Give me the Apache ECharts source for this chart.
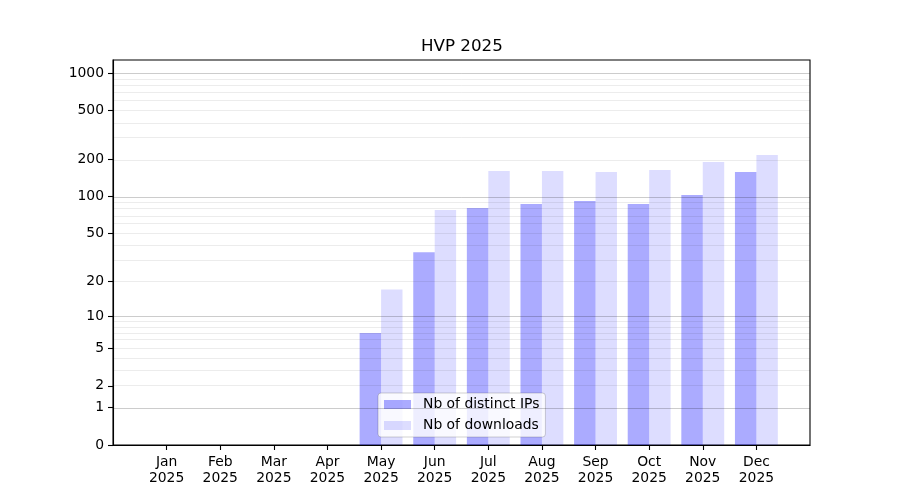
<!DOCTYPE html>
<html>
<head>
<meta charset="utf-8">
<title>HVP 2025</title>
<script src="https://cdn.jsdelivr.net/npm/echarts@6/dist/echarts.min.js"></script>
<style>
	html, body { margin: 0; padding: 0; background: #fff; }
	#main { width: 900px; height: 500px; }
</style>
</head>
<body>
<div id="main"></div>
<script>
var months = ['Jan', 'Feb', 'Mar', 'Apr', 'May', 'Jun', 'Jul', 'Aug', 'Sep', 'Oct', 'Nov', 'Dec'];
var year = '2025';
var distinctIps = [0, 0, 0, 0, 7, 35, 81, 87, 92, 87, 103, 159];
var downloads = [0, 0, 0, 0, 17, 78, 162, 162, 159, 165, 191, 218];
var yTicks = [0, 1, 2, 5, 10, 20, 50, 100, 200, 500, 1000];
var majorGrid = [1, 10, 100, 1000];
var minorGrid = [2, 3, 4, 5, 6, 7, 8, 9, 20, 30, 40, 50, 60, 70, 80, 90, 200, 300, 400, 500, 600, 700, 800, 900];
var yTop = 1280;

// y scale is log10(v + 1)
function tr(v) {
	return Math.log10(v + 1);
}

function toPoints(arr) {
	return arr.map(function (v, i) { return [i, tr(v)]; });
}

var monthIdx = months.map(function (m, i) { return i; });
var font = 'DejaVu Sans';

var gridLines = majorGrid.map(function (v) {
	return { yAxis: tr(v), lineStyle: { color: 'rgba(0,0,0,0.2)', width: 1, type: 'solid' } };
}).concat(minorGrid.map(function (v) {
	return { yAxis: tr(v), lineStyle: { color: 'rgba(0,0,0,0.075)', width: 1, type: 'solid' } };
}));

var chart = echarts.init(document.getElementById('main'));

chart.setOption({
	animation: false,
	textStyle: { fontFamily: font },
	title: {
		text: 'HVP 2025',
		left: 421,
		top: 38,
		padding: 0,
		textStyle: { fontFamily: font, fontSize: 16.7, fontWeight: 'normal', color: '#000' }
	},
	legend: {
		orient: 'vertical',
		left: 378,
		top: 393,
		padding: [4, 6, 4, 6],
		itemWidth: 27,
		itemHeight: 9,
		itemGap: 6,
		icon: 'rect',
		backgroundColor: 'rgba(255,255,255,0.8)',
		borderColor: 'rgba(0,0,0,0.18)',
		borderWidth: 1,
		borderRadius: 3,
		textStyle: { fontFamily: font, fontSize: 13.9, color: '#000', padding: [0, 0, 0, 7], lineHeight: 15 },
		data: ['Nb of distinct IPs', 'Nb of downloads']
	},
	grid: {
		left: 113,
		right: 90,
		top: 60,
		bottom: 55,
		show: true,
		borderColor: '#000',
		borderWidth: 1.1,
		backgroundColor: 'transparent'
	},
	xAxis: {
		type: 'value',
		min: -1,
		max: 12,
		splitLine: { show: false },
		axisLine: { show: true, onZero: false, lineStyle: { color: '#000', width: 1.1 } },
		axisTick: {
			show: true,
			length: 5,
			customValues: monthIdx,
			lineStyle: { color: '#000', width: 1.1 }
		},
		axisLabel: {
			customValues: monthIdx,
			margin: 9,
			fontFamily: font,
			fontSize: 13.9,
			lineHeight: 16,
			color: '#000',
			formatter: function (v) {
				return months[Math.round(v)] + '\n' + year;
			}
		}
	},
	yAxis: {
		type: 'value',
		min: 0,
		max: tr(yTop),
		splitLine: { show: false },
		axisLine: { show: true, onZero: false, lineStyle: { color: '#000', width: 1.1 } },
		axisTick: {
			show: true,
			length: 5,
			customValues: yTicks.map(tr),
			lineStyle: { color: '#000', width: 1.1 }
		},
		axisLabel: {
			customValues: yTicks.map(tr),
			margin: 9,
			fontFamily: font,
			fontSize: 13.9,
			color: '#000',
			formatter: function (v) {
				return String(Math.round(Math.pow(10, v) - 1));
			}
		}
	},
	series: [{
		name: 'Nb of distinct IPs',
		type: 'bar',
		barWidth: '40%',
		barGap: '0%',
		itemStyle: { color: 'rgba(0,0,255,0.33)' },
		data: toPoints(distinctIps)
	}, {
		name: 'Nb of downloads',
		type: 'bar',
		barWidth: '40%',
		barGap: '0%',
		itemStyle: { color: 'rgba(0,0,255,0.135)' },
		data: toPoints(downloads),
		markLine: {
			silent: true,
			symbol: ['none', 'none'],
			label: { show: false },
			z: 5,
			data: gridLines
		}
	}]
});
</script>
</body>
</html>
